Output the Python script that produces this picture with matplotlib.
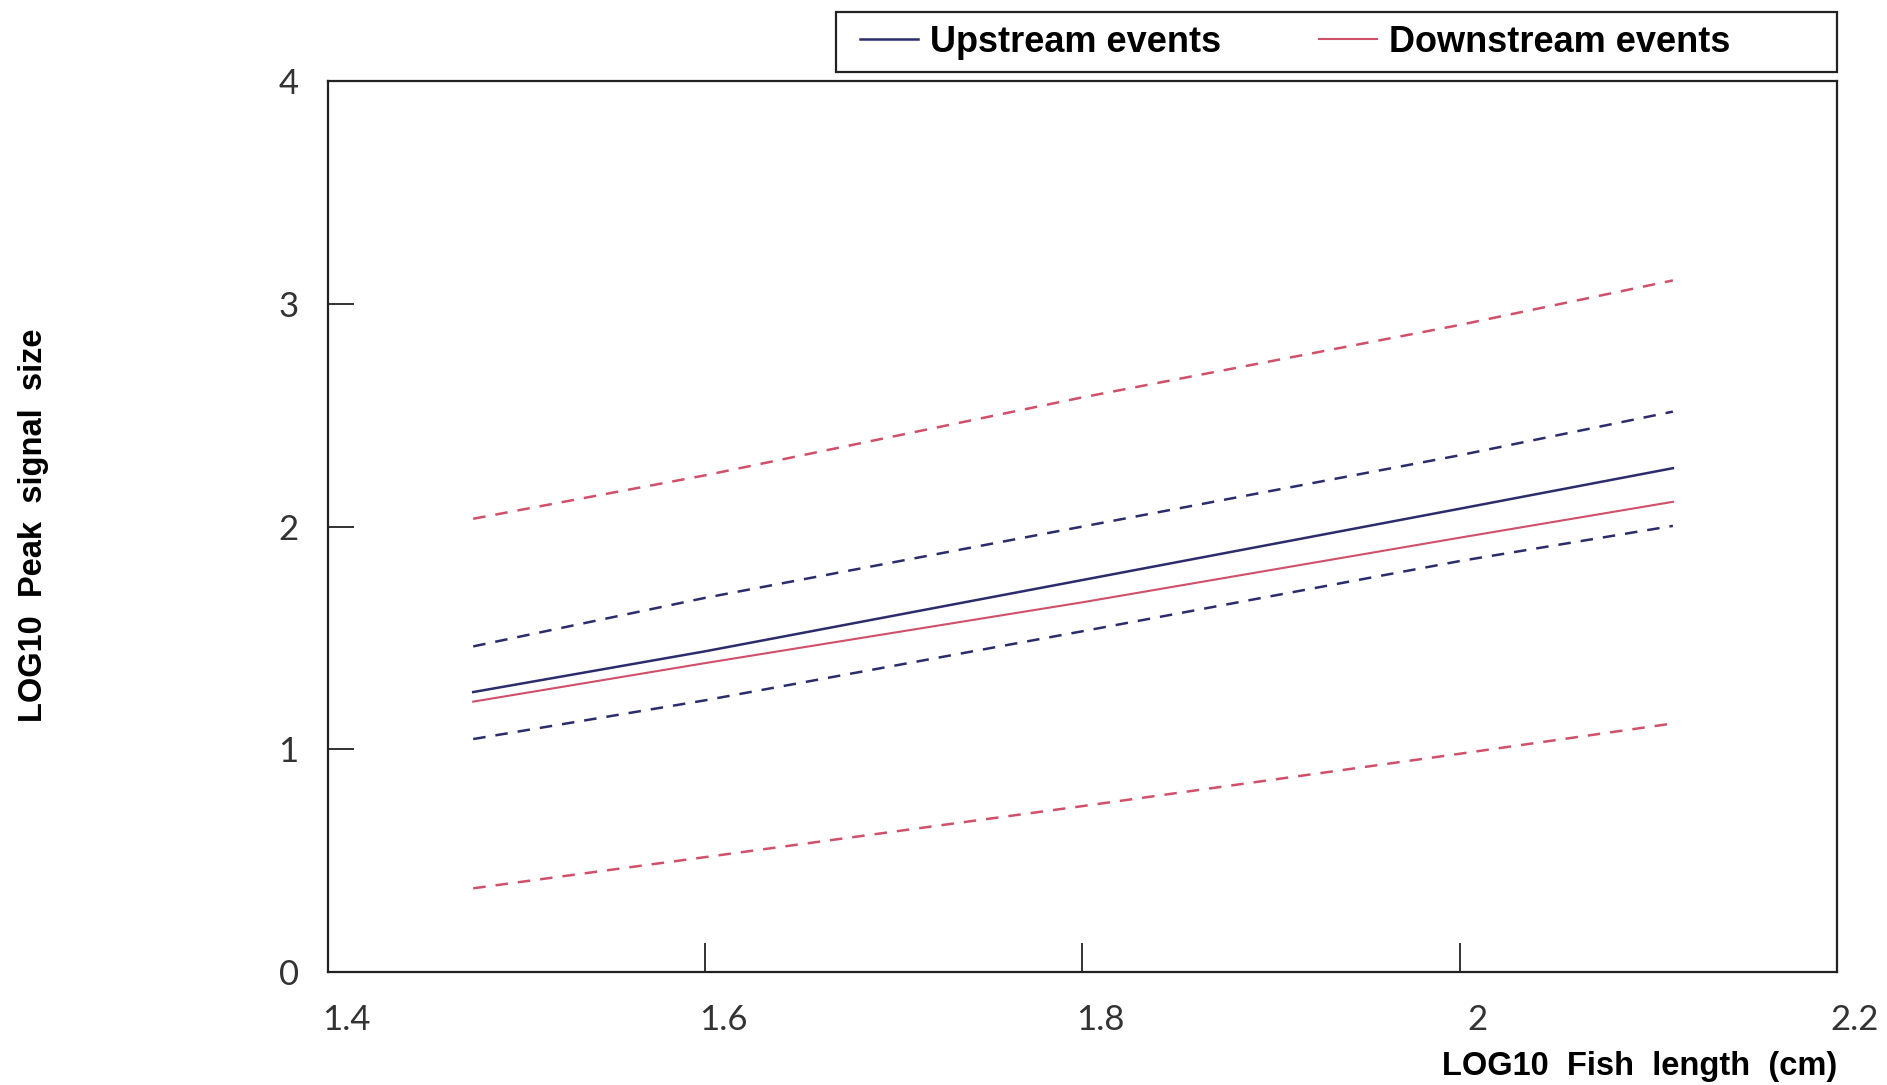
import matplotlib
matplotlib.use("Agg")
import matplotlib.pyplot as plt
import matplotlib.transforms as mtransforms
from matplotlib.patches import Rectangle

# x positions where the curves were read (LOG10 fish length)
fish_len = [1.477, 1.6, 1.8, 2.0, 2.113]

# upstream regression + confidence limits
up_fit = [1.257, 1.44, 1.76, 2.08, 2.262]
up_upper = [1.462, 1.68, 2.0, 2.32, 2.516]
up_lower = [1.046, 1.22, 1.53, 1.845, 2.003]

# downstream regression + confidence limits
down_fit = [1.214, 1.387, 1.66, 1.95, 2.111]
down_upper = [2.035, 2.23, 2.58, 2.905, 3.105]
down_lower = [0.376, 0.516, 0.745, 0.98, 1.116]

x_ticks = [1.4, 1.6, 1.8, 2.0, 2.2]
x_ticklabels = ["1.4", "1.6", "1.8", "2", "2.2"]
y_ticks = [0, 1, 2, 3, 4]

blue = "#2b2c6b"
red = "#d0506a"

fig = plt.figure(figsize=(18.87, 10.85), dpi=100)
ax = fig.add_axes([0.1738, 0.1041, 0.7997, 0.8212])

ax.plot(fish_len, up_fit, color=blue, lw=1.8, label="Upstream events")
ax.plot(fish_len, down_fit, color=red, lw=1.5, label="Downstream events")
for vals, col in [(up_upper, blue), (up_lower, blue), (down_upper, red), (down_lower, red)]:
    ax.plot(fish_len, vals, color=col, lw=1.8, dashes=(5, 4))

ax.set_xlim(1.4, 2.2)
ax.set_ylim(0, 4)
ax.set_xticks(x_ticks)
ax.set_xticklabels(x_ticklabels)
ax.set_yticks(y_ticks)

for s in ax.spines.values():
    s.set_linewidth(1.6)
    s.set_color("#222222")

ax.tick_params(axis="x", direction="in", length=21, width=1.3, pad=23, color="#222222",
               labelcolor="#333333")
ax.tick_params(axis="y", direction="in", length=19, width=1.3, pad=21, color="#222222",
               labelcolor="#333333")
for lab in ax.get_xticklabels() + ax.get_yticklabels():
    lab.set_fontfamily(["Lato", "DejaVu Sans"])
    lab.set_fontweight("normal")
    lab.set_fontsize(25)

# x tick labels sit a little right of their ticks in the original
offset = mtransforms.ScaledTranslation(0.18, 0, fig.dpi_scale_trans)
for lab in ax.get_xticklabels():
    lab.set_transform(lab.get_transform() + offset)

label_font = dict(family=["Liberation Sans", "DejaVu Sans"], weight="bold", size=23.5)
fig.text(1837 / 1887, 1 - 1066 / 1085, "LOG10  Fish  length  (cm)", ha="right", va="center", **label_font)
fig.text(34 / 1887, 1 - 525 / 1085, "LOG10  Peak  signal  size", rotation=90, ha="center", va="center", **label_font)

# legend box above the plot
fig.patches.append(Rectangle((836 / 1887, 1 - 72 / 1085), 1001 / 1887, 60 / 1085,
                             transform=fig.transFigure, fill=False, edgecolor="#222222", lw=1.6))
fig.legend(loc="center left", bbox_to_anchor=(860 / 1887, 1 - 42 / 1085), ncol=2, frameon=False,
           borderpad=0, borderaxespad=0, handlelength=1.6, handletextpad=0.35, columnspacing=2.7,
           prop=dict(family=["Liberation Sans", "DejaVu Sans"], weight="bold", size=26))

fig.savefig("out.png", dpi=100)
